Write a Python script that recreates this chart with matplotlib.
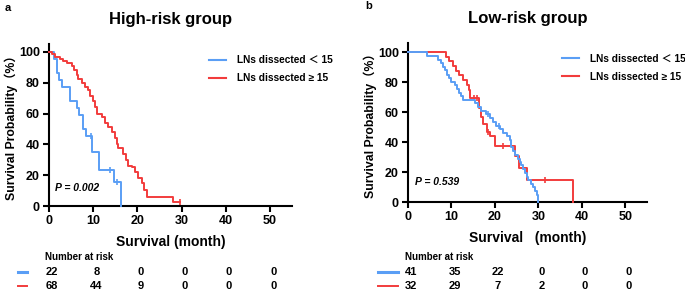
import numpy as np
import matplotlib.pyplot as plt
from matplotlib.lines import Line2D

####DATA####
# High-risk group, Kaplan-Meier steps (time in months, survival %)
hi_blue_t = [0, 1.2, 1.9, 2.3, 2.9, 4.7, 6.4, 6.8, 7.6, 8.4, 9.8, 11.3, 14.8, 16.4]
hi_blue_s = [100, 95.5, 86.4, 81.8, 77.3, 68.2, 63.6, 59.1, 50.0, 45.5, 35.2, 23.5, 15.7, 0]
hi_blue_cens_t = [9.4, 13.9, 15.4]
hi_blue_cens_s = [45.5, 23.5, 15.7]

hi_red_t = [0, 0.6, 1.4, 2.5, 3.2, 4.0, 5.1, 5.6, 6.3, 6.6, 7.4, 8.1, 8.9, 9.3, 9.9, 10.4,
            10.8, 11.9, 12.7, 13.4, 14.2, 14.9, 15.3, 15.7, 16.8, 17.4, 17.9, 18.7,
            19.5, 20.2, 21.0, 21.5, 22.1, 28.1]
hi_red_s = [100, 98.5, 97.0, 95.6, 94.1, 92.6, 91.1, 88.2, 85.3, 82.4, 80.0, 77.5, 75.0, 71.2,
            68.2, 64.5, 60.0, 57.5, 54.2, 51.0, 48.0, 44.2, 40.2, 37.5, 34.0, 30.0, 26.0, 25.0,
            22.0, 18.2, 15.0, 10.2, 5.6, 2.8]
hi_red_end = 29.6
hi_red_cens_t = [29.6]
hi_red_cens_s = [2.8]

# Low-risk group
lo_blue_t = [0, 4.4, 6.9, 7.5, 8.1, 8.6, 9.0, 9.4, 10.0, 10.8, 11.3, 11.8, 12.3, 12.7,
             15.4, 16.1, 16.9, 18.0, 18.8, 19.6, 20.3, 21.1, 21.9, 22.7, 23.4, 23.8,
             24.2, 24.6, 25.3, 25.7, 26.1, 26.5, 26.9, 27.3, 27.6, 28.4, 28.8, 29.2, 29.6, 30.0]
lo_blue_s = [100, 97.5, 95.0, 92.7, 90.0, 87.8, 85.0, 82.9, 80.0, 78.0, 75.6, 73.0, 70.7, 68.3,
             65.8, 63.4, 61.0, 58.5, 56.0, 53.7, 51.0, 48.8, 46.3, 43.9, 41.5, 36.6,
             34.0, 31.7, 29.0, 26.8, 24.4, 22.0, 19.5, 17.0, 14.6, 12.0, 9.8, 7.3, 4.9, 0]
lo_blue_cens_t = [18.5, 20.9]
lo_blue_cens_s = [58.5, 51.0]

lo_red_t = [0, 8.7, 9.5, 10.3, 11.0, 11.8, 12.7, 13.5, 14.0, 14.3, 16.4, 16.8, 17.2, 18.1,
            18.9, 20.1, 24.6, 25.6, 27.3, 37.9]
lo_red_s = [100, 96.9, 93.8, 90.6, 87.5, 84.4, 81.3, 78.1, 75.0, 69.6, 62.6, 56.4, 52.2, 47.0,
            44.0, 37.7, 30.8, 22.5, 15.0, 0]
lo_red_cens_t = [15.3, 15.8, 18.5, 21.8, 31.5]
lo_red_cens_s = [69.6, 69.6, 47.0, 37.7, 15.0]

risk_times = [0, 10, 20, 30, 40, 50]
hi_risk_blue = [22, 8, 0, 0, 0, 0]
hi_risk_red = [68, 44, 9, 0, 0, 0]
lo_risk_blue = [41, 35, 22, 0, 0, 0]
lo_risk_red = [32, 29, 7, 2, 0, 0]

BLUE = '#5a9ef5'
RED = '#f23c3c'

plt.rcParams['font.family'] = ['Liberation Sans', 'Noto Sans CJK SC', 'DejaVu Sans']
plt.rcParams['font.weight'] = 'bold'

fig = plt.figure(figsize=(6.85, 2.92), dpi=100)
ax1 = fig.add_axes([0.0715, 0.2945, 0.355, 0.555])
ax2 = fig.add_axes([0.5956, 0.308, 0.349, 0.5435])


def km(ax, t, s, color, end=None):
    tt = list(t)
    ss = list(s)
    if end is not None:
        tt.append(end)
        ss.append(ss[-1])
    ax.step(tt, ss, where='post', color=color, lw=1.4, clip_on=False, zorder=3)


def style(ax, title, ylim_top, xlabel):
    ax.set_xlim(0, 55)
    ax.set_ylim(0, ylim_top)
    ax.set_xticks([0, 10, 20, 30, 40, 50])
    ax.set_yticks([0, 20, 40, 60, 80, 100])
    for sp in ['top', 'right']:
        ax.spines[sp].set_visible(False)
    for sp in ['left', 'bottom']:
        ax.spines[sp].set_linewidth(1.5)
    ax.tick_params(direction='out', length=4, width=1.5, labelsize=9, pad=2.5)
    for lab in ax.get_xticklabels() + ax.get_yticklabels():
        lab.set_fontweight('bold')
    ax.set_title(title, fontsize=12, fontweight='bold', pad=14.5)
    ax.set_xlabel(xlabel, fontsize=10, fontweight='bold', labelpad=6)
    ax.set_ylabel('Survival Probability（%）', fontsize=8.8, fontweight='bold', labelpad=1)


# ---- high-risk ----
km(ax1, hi_blue_t, hi_blue_s, BLUE)
km(ax1, hi_red_t, hi_red_s, RED, end=hi_red_end)
ax1.plot(hi_blue_cens_t, hi_blue_cens_s, ls='none', marker='|', ms=5, mew=1.2, color=BLUE)
ax1.plot(hi_red_cens_t, hi_red_cens_s, ls='none', marker='|', ms=5, mew=1.2, color=RED)
style(ax1, 'High-risk group', 105.2, 'Survival (month)')
ax1.text(1.4, 9.5, 'P = 0.002', fontsize=7.5, style='italic', fontweight='bold')

# ---- low-risk ----
km(ax2, lo_red_t, lo_red_s, RED)
km(ax2, lo_blue_t, lo_blue_s, BLUE)
ax2.plot(lo_blue_cens_t, lo_blue_cens_s, ls='none', marker='|', ms=5, mew=1.2, color=BLUE)
ax2.plot(lo_red_cens_t, lo_red_cens_s, ls='none', marker='|', ms=5, mew=1.2, color=RED)
style(ax2, 'Low-risk group', 105.8, 'Survival   (month)')
ax2.text(1.6, 11.5, 'P = 0.539', fontsize=7.5, style='italic', fontweight='bold')

handles = [Line2D([], [], color=BLUE, lw=1.5), Line2D([], [], color=RED, lw=1.5)]
labels = ['LNs dissected ＜ 15', 'LNs dissected ≥ 15']
for ax, anchor in [(ax1, (0.642, 0.955)), (ax2, (0.628, 0.962))]:
    ax.legend(handles, labels, loc='upper left', bbox_to_anchor=anchor, frameon=False,
              prop={'size': 7.3, 'weight': 'bold'}, handlelength=1.7, handletextpad=1.0,
              labelspacing=0.8, borderaxespad=0)

# ---- number at risk ----
H = 292.0
for ax, rb, rr, x0, x1 in [(ax1, hi_risk_blue, hi_risk_red, 18, 27),
                           (ax2, lo_risk_blue, lo_risk_red, 378, 398)]:
    tr = ax.get_xaxis_transform()
    fb = ax.transAxes.inverted().transform(fig.transFigure.transform((0, 1 - 257 / H)))[1]
    ax.text(-0.8, fb, 'Number at risk', transform=tr, fontsize=7, fontweight='bold',
            ha='left', va='center', clip_on=False)
    for vals, ypx, col, lw in [(rb, 272, BLUE, 2.2), (rr, 286, RED, 1.4)]:
        ya = ax.transAxes.inverted().transform(fig.transFigure.transform((0, 1 - ypx / H)))[1]
        for t, v in zip(risk_times, vals):
            ax.text(t + 0.7, ya, str(v), transform=tr, fontsize=8, fontweight='bold',
                    ha='center', va='center', clip_on=False)
        fig.add_artist(Line2D([x0 / 685, x1 / 685], [1 - ypx / H, 1 - ypx / H],
                              color=col, lw=lw, transform=fig.transFigure))

fig.text(5 / 685, 1 - 8 / H, 'a', fontsize=8, fontweight='bold', ha='left', va='center')
fig.text(365 / 685, 1 - 6 / H, 'b', fontsize=8, fontweight='bold', ha='left', va='center')

fig.savefig('out.png', dpi=100)
